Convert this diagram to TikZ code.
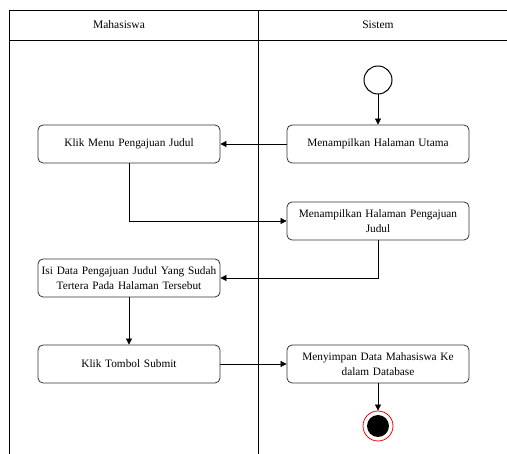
\documentclass[tikz,border=0pt]{standalone}
\usepackage{fontspec}
\setmainfont{Liberation Serif}
\usetikzlibrary{arrows.meta}
\begin{document}
\begin{tikzpicture}[x=1pt,y=-1pt,
  lane/.style={draw=black,line width=0.8pt},
  act/.style={draw=black!80,rounded corners=5pt,line width=0.8pt,minimum width=182pt,minimum height=38pt,inner xsep=0pt,inner ysep=2pt,align=center,text width=182pt,font=\fontsize{11.3}{14.5}\selectfont},
  lbl/.style={font=\fontsize{11.5}{14}\selectfont},
  flow/.style={draw=black,line width=0.7pt,-{Triangle[length=6pt,width=6pt]}}]
\useasboundingbox (0,0) rectangle (507,454);
\draw[lane] (507,10) -- (9,10) -- (9,454);
\draw[lane] (9,40) -- (507,40);
\draw[lane] (258,10) -- (258,454);
\node[lbl] (h1) at (119,25) {Mahasiswa};
\node[lbl] (h2) at (378,25) {Sistem};
\node[circle,draw=black,line width=1pt,minimum size=28pt,inner sep=0pt] (start) at (378,80) {};
\node[act] (utama) at (378,144) {Menampilkan Halaman Utama};
\node[act] (menu) at (129,144) {Klik Menu Pengajuan Judul};
\node[act] (hal) at (378,221) {Menampilkan Halaman Pengajuan\\Judul};
\node[act] (isi) at (129,278) {Isi Data Pengajuan Judul Yang Sudah\\Tertera Pada Halaman Tersebut};
\node[act] (submit) at (129,364) {Klik Tombol Submit};
\node[act] (simpan) at (378,364) {Menyimpan Data Mahasiswa Ke\\dalam Database};
\node[circle,draw=red,line width=0.8pt,fill=white,minimum size=30pt,inner sep=0pt] (end) at (378,426) {};
\node[circle,fill=black,minimum size=22pt,inner sep=0pt] (endin) at (end.center) {};
\draw[flow] (start) -- (utama);
\draw[flow] (utama) -- (menu);
\draw[flow] (menu.south) |- (hal.west);
\draw[flow] (hal.south) |- (isi.east);
\draw[flow] (isi) -- (submit);
\draw[flow] (submit) -- (simpan);
\draw[flow] (simpan) -- (end);
\end{tikzpicture}
\end{document}
